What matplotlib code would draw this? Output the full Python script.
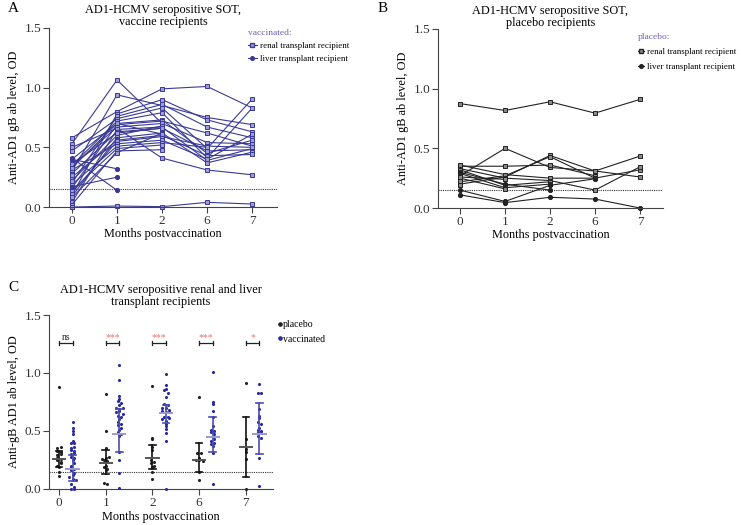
import numpy as np
import matplotlib
matplotlib.use("Agg")
import matplotlib.pyplot as plt
from matplotlib.lines import Line2D

plt.rcParams['font.family'] = ['Liberation Serif', 'DejaVu Serif']

nan = np.nan
months = ["0", "1", "2", "6", "7"]
cutoff = 0.15

# vaccinated subjects, OD at months 0, 1, 2, 6, 7
vacc_renal = [
    [0.53, 1.065, 0.70, nan, nan],
    [0.00, 0.008, 0.003, 0.039, 0.025],
    [0.30, 0.94, 0.85, 0.75, 0.69],
    [0.58, 0.80, 0.99, 1.01, 0.83],
    [0.50, 0.66, 0.41, 0.31, 0.27],
    [0.10, 0.78, 0.90, 0.73, 0.63],
    [0.20, 0.76, 0.86, 0.67, 0.58],
    [0.47, 0.74, 0.83, 0.49, 0.905],
    [0.35, 0.72, 0.79, 0.41, 0.83],
    [0.40, 0.70, 0.73, 0.45, 0.56],
    [0.16, 0.69, 0.72, 0.62, 0.51],
    [0.34, 0.67, 0.70, 0.54, 0.53],
    [0.04, 0.65, 0.67, 0.39, 0.49],
    [0.28, 0.63, 0.66, 0.47, 0.48],
    [0.09, 0.58, 0.62, 0.37, 0.46],
    [0.25, 0.56, 0.60, 0.43, 0.44],
    [0.12, 0.55, 0.59, 0.51, 0.50],
    [0.31, 0.53, 0.56, 0.40, 0.61],
    [0.19, 0.51, 0.54, 0.50, nan],
    [0.14, 0.49, 0.52, nan, nan],
    [0.02, 0.47, 0.48, nan, nan],
    [0.08, 0.455, 0.62, nan, nan],
    [0.22, 0.60, 0.68, nan, nan],
    [0.36, 0.62, 0.66, nan, nan],
    [0.33, 0.70, 0.61, nan, nan],
    [0.27, nan, nan, nan, nan],
    [0.00, nan, nan, nan, nan],
]
vacc_liver = [
    [0.41, 0.14, nan, nan, nan],
    [0.40, 0.32, nan, nan, nan],
    [0.17, 0.25, nan, nan, nan],
]

# placebo subjects
plac_renal = [
    [0.875, 0.817, 0.89, 0.795, 0.91],
    [0.27, 0.50, 0.34, 0.31, 0.26],
    [0.35, 0.35, 0.36, 0.27, nan],
    [0.20, 0.26, 0.44, 0.31, 0.435],
    [0.22, 0.27, 0.43, 0.25, 0.32],
    [0.36, 0.28, 0.25, 0.25, nan],
    [0.33, 0.25, 0.23, 0.15, 0.345],
    [0.32, 0.19, 0.22, nan, nan],
    [0.29, 0.17, 0.20, nan, nan],
    [0.25, 0.16, nan, nan, nan],
    [0.26, 0.24, nan, nan, nan],
    [0.23, nan, nan, nan, nan],
    [0.19, nan, nan, nan, nan],
]
plac_liver = [
    [0.15, 0.055, 0.19, 0.245, nan],
    [0.11, 0.045, 0.09, 0.075, 0.0],
    [0.30, 0.20, 0.15, nan, nan],
]

# panel C summary bars (median, interquartile range)
plac_median = [0.255, 0.22, 0.265, 0.25, 0.36]
plac_low = [0.19, 0.13, 0.17, 0.145, 0.105]
plac_high = [0.33, 0.34, 0.38, 0.40, 0.62]
vacc_median = [0.17, 0.47, 0.655, 0.45, 0.475]
vacc_low = [0.065, 0.32, 0.565, 0.315, 0.305]
vacc_high = [0.29, 0.69, 0.725, 0.62, 0.745]
sig_labels = ["ns", "***", "***", "***", "*"]

BLUE = '#3a3a96'
LEGBLUE = '#6a62b8'
DOTBLUE = '#2a2aa0'
LAB = 8.8


def style_axes(ax, xlim):
    ax.set_xlim(*xlim)
    ax.set_ylim(0, 1.5)
    ax.set_xticks(range(5))
    ax.set_xticklabels(months)
    ax.set_yticks([0, 0.5, 1.0, 1.5])
    ax.set_yticklabels(["0.0", "0.5", "1.0", "1.5"])
    for s in ['top', 'right']:
        ax.spines[s].set_visible(False)
    for s in ['left', 'bottom']:
        ax.spines[s].set_color('#444444')
        ax.spines[s].set_linewidth(0.8)
    ax.tick_params(labelsize=9.5, length=4, width=0.8, color='#444444', pad=1.5,
                   labelcolor='#333333')
    ax.axhline(cutoff, color='#333333', lw=0.8, ls=(0, (1, 1)))
    ax.set_xlabel("Months postvaccination", fontsize=LAB, labelpad=1)


def spaghetti(ax, rows, color, marker, mfc):
    x = np.arange(5)
    for r in rows:
        r = np.array(r)
        m = ~np.isnan(r)
        ax.plot(x[m], r[m], color=color, lw=0.8, marker=marker, ms=3.0,
                mfc=mfc, mec=color, mew=0.7, clip_on=False)


def swarm(vals, step=0.075, binw=0.03):
    vals = np.asarray(vals, dtype=float)
    vals = vals[~np.isnan(vals)]
    offs = np.zeros(len(vals))
    bins = np.round(vals / binw)
    for b in np.unique(bins):
        idx = np.where(bins == b)[0]
        n = len(idx)
        offs[idx] = (np.arange(n) - (n - 1) / 2) * step
    return vals, offs


fig = plt.figure(figsize=(7.41, 5.25), dpi=100)

# ---- A
axA = fig.add_axes([0.0661, 0.6057, 0.3077, 0.341])
style_axes(axA, (-0.51, 4.55))
spaghetti(axA, vacc_renal, BLUE, 's', '#9c9cd6')
spaghetti(axA, vacc_liver, BLUE, 'o', BLUE)
axA.set_ylabel("Anti-AD1 gB ab level, OD", fontsize=LAB, labelpad=3)
axA.set_title("AD1-HCMV seropositive SOT,\nvaccine recipients", fontsize=LAB,
              linespacing=1.05, pad=2)
hA = [Line2D([], [], color=BLUE, lw=0.8, marker='s', ms=2.6, mfc='#9c9cd6', mec=BLUE),
      Line2D([], [], color=BLUE, lw=0.8, marker='o', ms=2.6, mfc=BLUE, mec=BLUE)]
legA = fig.legend(hA, ["renal transplant recipient", "liver transplant recipient"],
                  loc='upper left', bbox_to_anchor=(248 / 741, 1 - 29 / 525),
                  frameon=False, title="vaccinated:", fontsize=6.4, title_fontsize=6.8,
                  handlelength=1.0, handletextpad=0.4, labelspacing=0.55,
                  borderpad=0, borderaxespad=0)
legA.get_title().set_color(LEGBLUE)
legA._legend_box.align = "left"

# ---- B
axB = fig.add_axes([0.5911, 0.6038, 0.3036, 0.341])
style_axes(axB, (-0.49, 4.51))
spaghetti(axB, plac_renal, '#222222', 's', '#8a8a8a')
spaghetti(axB, plac_liver, '#222222', 'o', '#222222')
axB.set_ylabel("Anti-AD1 gB ab level, OD", fontsize=LAB, labelpad=3)
axB.set_title("AD1-HCMV seropositive SOT,\nplacebo recipients", fontsize=LAB,
              linespacing=1.05, pad=2)
hB = [Line2D([], [], color='#222222', lw=0.8, marker='s', ms=2.6, mfc='#8a8a8a', mec='#222222'),
      Line2D([], [], color='#222222', lw=0.8, marker='o', ms=2.6, mfc='#222222', mec='#222222')]
legB = fig.legend(hB, ["renal transplant recipient", "liver transplant recipient"],
                  loc='upper left', bbox_to_anchor=(638 / 741, 1 - 33 / 525),
                  frameon=False, title="placebo:", fontsize=6.4, title_fontsize=6.8,
                  handlelength=0.7, handletextpad=0.3, labelspacing=0.75,
                  borderpad=0, borderaxespad=0)
legB.get_title().set_color(LEGBLUE)
legB._legend_box.align = "left"

# ---- C
axC = fig.add_axes([0.0661, 0.0686, 0.3023, 0.3314])
style_axes(axC, (-0.214, 4.58))
axC.xaxis.labelpad = 1.5
axC.set_ylabel("Anti-gB AD1 ab level, OD", fontsize=LAB, labelpad=3)
axC.set_title("AD1-HCMV seropositive renal and liver\ntransplant recipients",
              fontsize=LAB, linespacing=1.05, pad=7)
off = 0.29
plac_all = plac_renal + plac_liver
vacc_all = vacc_renal + vacc_liver
for i in range(5):
    pv, po = swarm([r[i] for r in plac_all])
    axC.scatter(i + po, pv, s=5, color='#222222', lw=0, clip_on=False, zorder=3)
    vv, vo = swarm([r[i] for r in vacc_all])
    axC.scatter(i + off + vo, vv, s=5, color=DOTBLUE, lw=0, clip_on=False, zorder=3)
    for xc, med, lo, hi, col, mcol in [(i, plac_median[i], plac_low[i], plac_high[i], '#111111', '#555555'),
                                       (i + off, vacc_median[i], vacc_low[i], vacc_high[i], '#4b4bb0', '#9a9ad2')]:
        axC.plot([xc, xc], [lo, hi], color=col, lw=1.2, zorder=4)
        axC.plot([xc - 0.07, xc + 0.07], [lo, lo], color=col, lw=1.2, zorder=4)
        axC.plot([xc - 0.07, xc + 0.07], [hi, hi], color=col, lw=1.2, zorder=4)
        axC.plot([xc - 0.13, xc + 0.13], [med, med], color=mcol, lw=1.4, zorder=4)
    # significance bracket
    yb = 1.26
    axC.plot([i, i + off], [yb, yb], color='#222222', lw=0.9)
    axC.plot([i, i], [yb - 0.02, yb + 0.02], color='#222222', lw=0.9)
    axC.plot([i + off, i + off], [yb - 0.02, yb + 0.02], color='#222222', lw=0.9)
    axC.text(i + off / 2, yb + 0.005, sig_labels[i], ha='center', va='bottom',
             fontsize=7, color='#222222' if sig_labels[i] == "ns" else '#f07070')
hC = [Line2D([], [], ls='', marker='o', ms=2.3, color='#222222'),
      Line2D([], [], ls='', marker='o', ms=2.3, color=DOTBLUE)]
legC = fig.legend(hC, ["placebo", "vaccinated"], loc='upper left',
                  bbox_to_anchor=(278 / 741, 1 - 320 / 525), frameon=False,
                  fontsize=7, handlelength=0.4, handletextpad=0.1,
                  labelspacing=0.6, borderpad=0, borderaxespad=0)

fig.text(8 / 741, 1 - 2 / 525, "A", fontsize=11, va='top')
fig.text(378 / 741, 1 - 2 / 525, "B", fontsize=11, va='top')
fig.text(8 / 741, 1 - 281 / 525, "C", fontsize=11, va='top')

fig.savefig("out.png", dpi=100)
